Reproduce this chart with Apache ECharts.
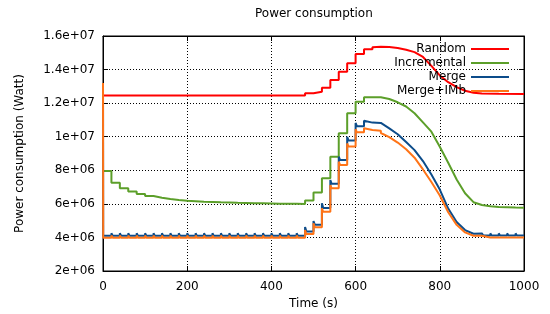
<!DOCTYPE html>
<html>
<head>
<meta charset="utf-8">
<script src="https://cdn.jsdelivr.net/npm/echarts@6/dist/echarts.min.js"></script>
<style>
  html, body { margin: 0; padding: 0; background: #fff; }
  #chart { width: 550px; height: 314px; }
</style>
</head>
<body>
<div id="chart"></div>
<script>
// values (Watt), time in seconds
const seriesNames = ["Random", "Incremental", "Merge", "Merge+IMb"];
const startPeak = 13.2e6;

// Random: [start of step, level]
const randomSteps = [
  [0, 12.45e6], [480, 12.59e6], [500, 12.68e6], [520, 12.92e6], [540, 13.38e6],
  [560, 13.87e6], [580, 14.37e6], [600, 14.93e6], [620, 15.21e6]
];
const randomTail = [
  [640, 15.33e6], [660, 15.36e6], [680, 15.35e6], [700, 15.29e6], [720, 15.18e6],
  [740, 15.04e6], [760, 14.75e6], [780, 14.22e6], [800, 13.65e6], [820, 13.25e6],
  [840, 12.95e6], [860, 12.74e6], [880, 12.62e6], [900, 12.58e6], [940, 12.56e6],
  [1000, 12.55e6]
];

// Incremental: [start of step, level]
const incrementalSteps = [
  [0, 7.96e6], [20, 7.26e6], [40, 6.93e6], [60, 6.73e6], [80, 6.59e6], [100, 6.47e6],
  [120, 6.37e6], [140, 6.29e6], [160, 6.23e6], [180, 6.19e6], [200, 6.16e6], [220, 6.13e6],
  [240, 6.11e6], [260, 6.09e6], [280, 6.08e6], [300, 6.06e6], [320, 6.05e6], [340, 6.04e6],
  [360, 6.03e6], [380, 6.02e6], [400, 6.01e6], [420, 6.0e6], [440, 6.0e6], [460, 5.99e6],
  [480, 6.2e6], [500, 6.67e6], [520, 7.52e6], [540, 8.81e6], [560, 10.2e6], [580, 11.4e6],
  [600, 12.09e6], [620, 12.35e6]
];
const incrementalTail = [
  [640, 12.37e6], [660, 12.35e6], [680, 12.25e6], [700, 12.05e6], [720, 11.8e6],
  [740, 11.4e6], [760, 10.85e6], [780, 10.3e6], [800, 9.4e6], [820, 8.45e6],
  [840, 7.45e6], [860, 6.63e6], [880, 6.1e6], [900, 5.93e6], [920, 5.86e6],
  [940, 5.82e6], [960, 5.8e6], [980, 5.78e6], [1000, 5.77e6]
];

// Merge: [start of step, spike top, level after spike]
const mergeSteps = [
  [0, startPeak, 4.10e6], [20, 4.25e6, 4.10e6], [40, 4.25e6, 4.10e6], [60, 4.25e6, 4.10e6],
  [80, 4.25e6, 4.10e6], [100, 4.25e6, 4.10e6], [120, 4.25e6, 4.10e6], [140, 4.25e6, 4.10e6],
  [160, 4.25e6, 4.10e6], [180, 4.25e6, 4.10e6], [200, 4.25e6, 4.10e6], [220, 4.25e6, 4.10e6],
  [240, 4.25e6, 4.10e6], [260, 4.25e6, 4.10e6], [280, 4.25e6, 4.10e6], [300, 4.25e6, 4.10e6],
  [320, 4.25e6, 4.10e6], [340, 4.25e6, 4.10e6], [360, 4.25e6, 4.10e6], [380, 4.25e6, 4.10e6],
  [400, 4.25e6, 4.10e6], [420, 4.25e6, 4.10e6], [440, 4.25e6, 4.10e6], [460, 4.25e6, 4.10e6],
  [480, 4.62e6, 4.36e6], [500, 4.98e6, 4.76e6], [520, 6.03e6, 5.76e6], [540, 7.42e6, 7.2e6],
  [560, 8.81e6, 8.62e6], [580, 10.0e6, 9.78e6], [600, 10.82e6, 10.63e6], [620, 10.95e6, 10.84e6],
  [640, 10.9e6, 10.82e6]
];
const mergeTail = [
  [660, 10.72e6], [680, 10.5e6], [700, 10.15e6], [720, 9.68e6], [740, 9.2e6],
  [760, 8.55e6], [780, 7.75e6], [800, 6.85e6], [820, 5.72e6], [840, 4.92e6],
  [860, 4.44e6], [880, 4.22e6]
];
const mergeEndSteps = [
  [900, 4.24e6, 4.12e6], [920, 4.24e6, 4.12e6], [940, 4.24e6, 4.12e6],
  [960, 4.24e6, 4.12e6], [980, 4.24e6, 4.12e6]
];

// Merge+IMb
const mergeImbSteps = [
  [0, startPeak, 3.98e6], [20, 4.12e6, 3.98e6], [40, 4.12e6, 3.98e6], [60, 4.12e6, 3.98e6],
  [80, 4.12e6, 3.98e6], [100, 4.12e6, 3.98e6], [120, 4.12e6, 3.98e6], [140, 4.12e6, 3.98e6],
  [160, 4.12e6, 3.98e6], [180, 4.12e6, 3.98e6], [200, 4.12e6, 3.98e6], [220, 4.12e6, 3.98e6],
  [240, 4.12e6, 3.98e6], [260, 4.12e6, 3.98e6], [280, 4.12e6, 3.98e6], [300, 4.12e6, 3.98e6],
  [320, 4.12e6, 3.98e6], [340, 4.12e6, 3.98e6], [360, 4.12e6, 3.98e6], [380, 4.12e6, 3.98e6],
  [400, 4.12e6, 3.98e6], [420, 4.12e6, 3.98e6], [440, 4.12e6, 3.98e6], [460, 4.12e6, 3.98e6],
  [480, 4.44e6, 4.2e6], [500, 4.84e6, 4.6e6], [520, 5.74e6, 5.53e6], [540, 7.12e6, 6.93e6],
  [560, 8.51e6, 8.32e6], [580, 9.6e6, 9.41e6], [600, 10.45e6, 10.26e6], [620, 10.5e6, 10.4e6],
  [640, 10.42e6, 10.36e6]
];
const mergeImbTail = [
  [660, 10.22e6], [680, 9.98e6], [700, 9.65e6], [720, 9.25e6], [740, 8.75e6],
  [760, 8.05e6], [780, 7.3e6], [800, 6.5e6], [820, 5.5e6], [840, 4.75e6],
  [860, 4.3e6], [880, 4.1e6]
];
const mergeImbEndSteps = [
  [900, 4.1e6, 3.99e6], [920, 4.1e6, 3.99e6], [940, 4.1e6, 3.99e6],
  [960, 4.1e6, 3.99e6], [980, 4.1e6, 3.99e6]
];

const colors = ["#ff0000", "#5c9f2a", "#0c4c8a", "#ff7417"];

// held levels -> polyline with vertical jumps
function held(steps, endT) {
  const out = [];
  steps.forEach((s, i) => {
    const next = i + 1 < steps.length ? steps[i + 1][0] : endT;
    out.push([s[0], s[1]], [next, s[1]]);
  });
  return out;
}
// spike at each step start, then settle on the level
function spiky(steps, endT) {
  const out = [];
  steps.forEach((s, i) => {
    const next = i + 1 < steps.length ? steps[i + 1][0] : endT;
    out.push([s[0], s[1]], [s[0] + (i == 0 && s[1] == startPeak ? 0.5 : 3), s[2]], [next, s[2]]);
  });
  return out;
}

const randomData = [[0, startPeak]].concat(held(randomSteps, 640), randomTail);
const incrementalData = [[0, startPeak]].concat(held(incrementalSteps, 640), incrementalTail);
const mergeData = spiky(mergeSteps, 660).concat(mergeTail, spiky(mergeEndSteps, 1000));
const mergeImbData = spiky(mergeImbSteps, 660).concat(mergeImbTail, spiky(mergeImbEndSteps, 1000));

const sci = (v) => v.toExponential().replace(/e([+-])(\d)$/, (m, sg, d) => "e" + sg + "0" + d);

const font = "DejaVu Sans";
const chart = echarts.init(document.getElementById("chart"));
const dotted = { show: true, lineStyle: { color: "#000", type: [1, 2], width: 1 } };
const mirrorTick = { show: true, inside: true, length: 5, lineStyle: { color: "#000" } };

const option = {
  animation: false,
  textStyle: { fontFamily: font },
  title: {
    text: "Power consumption",
    left: 250, top: 3,
    textStyle: { fontFamily: font, fontSize: 12, fontWeight: "normal", color: "#000" }
  },
  legend: {
    orient: "vertical",
    right: 36, top: 37,
    align: "right",
    icon: "rect",
    itemWidth: 38, itemHeight: 2,
    itemGap: 0,
    textStyle: { fontFamily: font, fontSize: 12, color: "#000", lineHeight: 14 },
    data: seriesNames
  },
  grid: {
    left: 103, right: 26, top: 36, bottom: 43,
    outerBoundsMode: "none",
    show: true, borderColor: "#000", borderWidth: 1
  },
  xAxis: [
    {
      type: "value", min: 0, max: 1000, interval: 200,
      name: "Time (s)", nameLocation: "middle", nameGap: 27,
      nameTextStyle: { fontFamily: font, fontSize: 12, color: "#000" },
      axisLine: { show: true, onZero: false, lineStyle: { color: "#000", width: 1 } },
      axisTick: mirrorTick,
      axisLabel: { fontFamily: font, fontSize: 12, color: "#000", margin: 10, formatter: (v) => String(v) },
      splitLine: dotted
    },
    {
      type: "value", min: 0, max: 1000, interval: 200, position: "top",
      axisLine: { show: true, onZero: false, lineStyle: { color: "#000" } },
      axisTick: mirrorTick, axisLabel: { show: false }, splitLine: { show: false }
    }
  ],
  yAxis: [
    {
      type: "value", min: 2e6, max: 16e6, interval: 2e6,
      name: "Power consumption (Watt)", nameLocation: "middle", nameGap: 77,
      nameTextStyle: { fontFamily: font, fontSize: 12, color: "#000" },
      axisLine: { show: true, onZero: false, lineStyle: { color: "#000", width: 1 } },
      axisTick: mirrorTick,
      axisLabel: { fontFamily: font, fontSize: 12, color: "#000", margin: 8, formatter: sci },
      splitLine: dotted
    },
    {
      type: "value", min: 2e6, max: 16e6, interval: 2e6, position: "right",
      axisLine: { show: true, onZero: false, lineStyle: { color: "#000" } },
      axisTick: mirrorTick, axisLabel: { show: false }, splitLine: { show: false }
    }
  ],
  series: [randomData, incrementalData, mergeData, mergeImbData].map((d, i) => ({
    name: seriesNames[i],
    type: "line",
    xAxisIndex: 0, yAxisIndex: 0,
    data: d,
    symbol: "none",
    color: colors[i],
    lineStyle: { width: 2, color: colors[i] },
    clip: true
  }))
};
chart.setOption(option);
</script>
</body>
</html>
